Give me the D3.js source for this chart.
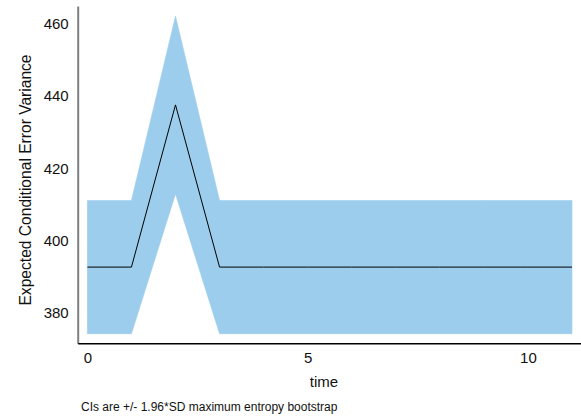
<!DOCTYPE html>
<html>
<head>
<meta charset="utf-8">
<script src="https://cdn.jsdelivr.net/npm/d3@7"></script>
<style>
  html, body { margin: 0; padding: 0; background: #fff; }
  svg { display: block; font-family: "Liberation Sans", Arial, Helvetica, sans-serif; }
</style>
</head>
<body>
<svg id="chart" width="581" height="416"></svg>
<script>
// Time steps and the expected conditional error variance with its bootstrap band
const time = [0, 1, 2, 3, 4, 5, 6, 7, 8, 9, 10, 11];
const meanValues  = [392.7, 392.7, 437.5, 392.7, 392.7, 392.7, 392.7, 392.7, 392.7, 392.7, 392.7, 392.7];
const upperValues = [411.1, 411.1, 462.0, 411.1, 411.1, 411.1, 411.1, 411.1, 411.1, 411.1, 411.1, 411.1];
const lowerValues = [374.3, 374.3, 412.9, 374.3, 374.3, 374.3, 374.3, 374.3, 374.3, 374.3, 374.3, 374.3];
const xTicks = [0, 5, 10];
const yTicks = [380, 400, 420, 440, 460];

const svg = d3.select("#chart");

const x = d3.scaleLinear().domain([-0.22, 11.205]).range([77.7, 581]);
const y = d3.scaleLinear().domain([371.66, 464.8]).range([343.3, 6]);

const rows = time.map((t, i) => ({ t, mean: meanValues[i], lo: lowerValues[i], hi: upperValues[i] }));

// confidence band
const area = d3.area()
  .x(d => x(d.t))
  .y0(d => y(d.lo))
  .y1(d => y(d.hi));

svg.append("path")
  .datum(rows)
  .attr("d", area)
  .attr("fill", "#9ccdec")
  .attr("stroke", "#9ccdec")
  .attr("stroke-width", 0.6);

// mean line
const line = d3.line()
  .x(d => x(d.t))
  .y(d => y(d.mean));

svg.append("path")
  .datum(rows)
  .attr("d", line)
  .attr("fill", "none")
  .attr("stroke", "#000")
  .attr("stroke-width", 1);

// y axis
const yAxis = svg.append("g")
  .attr("transform", "translate(77.7,0)")
  .call(d3.axisLeft(y).tickValues(yTicks).tickSize(0).tickSizeOuter(0).tickPadding(9));
yAxis.select(".domain").attr("stroke", "#808080").attr("stroke-width", 2);
yAxis.selectAll("text")
  .attr("font-size", 15)
  .attr("font-family", "Liberation Sans, Arial, sans-serif")
  .attr("fill", "#111");

// x axis
const xAxis = svg.append("g")
  .attr("transform", "translate(0,343.3)")
  .call(d3.axisBottom(x).tickValues(xTicks).tickSize(0).tickSizeOuter(0).tickPadding(9));
xAxis.select(".domain").attr("stroke", "#000").attr("stroke-width", 1.5);
xAxis.selectAll("text")
  .attr("font-size", 15)
  .attr("font-family", "Liberation Sans, Arial, sans-serif")
  .attr("fill", "#111");

// axis titles
svg.append("text")
  .attr("x", 324)
  .attr("y", 387)
  .attr("text-anchor", "middle")
  .attr("font-size", 15)
  .attr("fill", "#111")
  .text("time");

svg.append("text")
  .attr("transform", "translate(31,180) rotate(-90)")
  .attr("text-anchor", "middle")
  .attr("font-size", 15.6)
  .attr("fill", "#111")
  .text("Expected Conditional Error Variance");

// caption
svg.append("text")
  .attr("x", 81)
  .attr("y", 411)
  .attr("font-size", 12)
  .attr("fill", "#111")
  .text("CIs are +/- 1.96*SD maximum entropy bootstrap");
</script>
</body>
</html>
